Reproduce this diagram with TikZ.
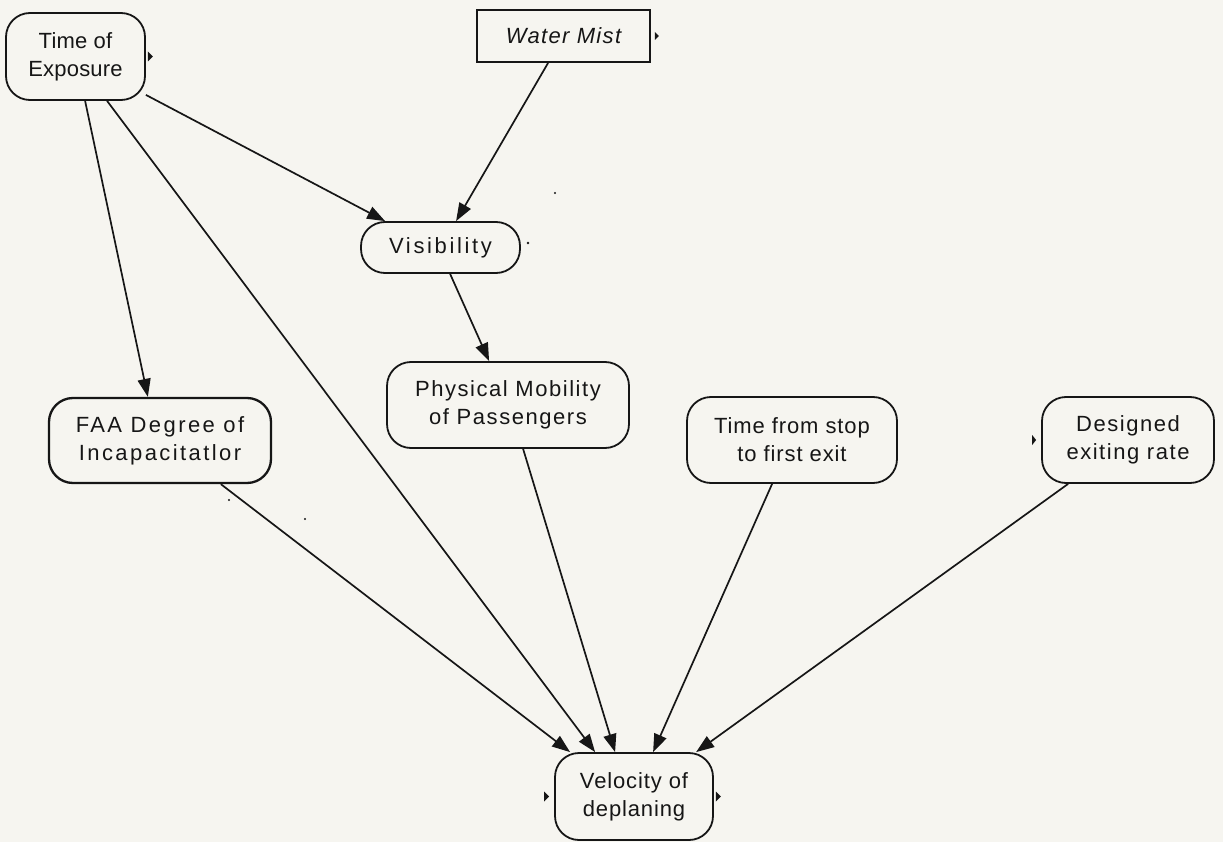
\documentclass[tikz,border=0pt]{standalone}
\usepackage{fontspec}
\setmainfont{Liberation Sans}
\usetikzlibrary{arrows.meta,calc}
\definecolor{paper}{RGB}{246,245,240}
\definecolor{ink}{RGB}{22,22,22}
\begin{document}
\begin{tikzpicture}[x=1pt,y=-1pt,
  nodetext/.style={font=\fontsize{22}{28}\selectfont\addfontfeatures{LetterSpace=#1}},
  box/.style={draw=ink, line width=1.8pt, rounded corners=24pt, inner sep=0pt,
    align=center, text=ink},
  plainbox/.style={draw=ink, line width=1.8pt, inner sep=0pt, align=center, text=ink},
  link/.style={draw=ink, line width=1.7pt, -{Triangle[length=18pt,width=13pt]}},
  inkmark/.style={fill=ink}
]
\fill[paper] (0,0) rectangle (1223,842);
\useasboundingbox (0,0) rectangle (1223,842);

% nodes
\node[box, nodetext=1, minimum width=139pt, minimum height=87pt] (time) at (75.5,56.5) {Time of\\Exposure};
\node[plainbox, nodetext=6, minimum width=173pt, minimum height=52pt] (water) at (563.5,36) {\itshape Water Mist};
\node[box, nodetext=12, minimum width=159pt, minimum height=51pt] (vis) at (440.5,247.5) {Visibility};
\node[box, nodetext=7, minimum width=242pt, minimum height=86pt] (phys) at (508,405) {Physical Mobility\\of Passengers};
\node[box, nodetext=11, line width=2.3pt, minimum width=222pt, minimum height=85pt] (faa) at (160,440.5) {FAA Degree of\\Incapacitatlor};
\node[box, nodetext=4, minimum width=210pt, minimum height=86pt] (tfs) at (792,440) {Time from stop\\to first exit};
\node[box, nodetext=7, minimum width=172pt, minimum height=86pt] (des) at (1128,440) {Designed\\exiting rate};
\node[box, nodetext=4, minimum width=158pt, minimum height=87pt] (vel) at (634,796.5) {Velocity of\\deplaning};

% connectors
\draw[link] ([yshift=6pt]time.south east) -- ([xshift=25pt]vis.north west);
\draw[link] ([xshift=72pt]water.south west) -- ([xshift=96pt]vis.north west);
\draw[link] ([xshift=80pt]time.south west) -- ([xshift=100pt]faa.north west);
\draw[link] ([xshift=102pt]time.south west) -- ([xshift=41pt]vel.north west);
\draw[link] ([xshift=90pt]vis.south west) -- ([xshift=103pt]phys.north west);
\draw[link] ([xshift=173pt]faa.south west) -- ([xshift=16pt]vel.north west);
\draw[link] ([xshift=137pt]phys.south west) -- ([xshift=61pt]vel.north west);
\draw[link] ([xshift=86pt]tfs.south west) -- ([xshift=99pt]vel.north west);
\draw[link] ([xshift=27pt]des.south west) -- ([xshift=142pt]vel.north west);

% small indicator marks
\fill[inkmark] ($(time.east)+(2,-5)$) -- ++(5,5) -- ++(-5,5) -- cycle;
\fill[inkmark] ($(water.east)+(4,-4)$) -- ++(4,4) -- ++(-4,4) -- cycle;
\fill[inkmark] ($(des.west)+(-9,-5)$) -- ++(4,5) -- ++(-4,5) -- cycle;
\fill[inkmark] ($(vel.west)+(-10,-5)$) -- ++(5,5) -- ++(-5,5) -- cycle;
\fill[inkmark] ($(vel.east)+(2,-5)$) -- ++(5,5) -- ++(-5,5) -- cycle;
\fill[inkmark] ($(vis.east)+(7,-4.5)$) circle (1.4);

% specks
\fill[inkmark] (229,500) circle (1.1);
\fill[inkmark] (305,519) circle (1.1);
\fill[inkmark] (555,193) circle (1.1);
\end{tikzpicture}
\end{document}
